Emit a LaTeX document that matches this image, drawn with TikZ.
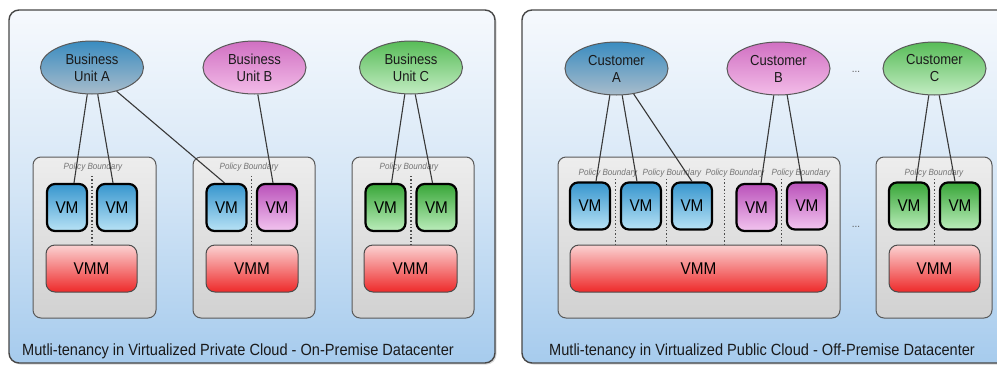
\documentclass[tikz,border=0pt]{standalone}
\usepackage{fontspec}
\setmainfont{Liberation Sans}[FakeStretch=0.9]
\usetikzlibrary{shapes.geometric,calc,shadows}

% palette
\definecolor{panelTop}{HTML}{F6F9FD}
\definecolor{panelMid}{HTML}{D5E6F6}
\definecolor{panelBot}{HTML}{A6CBED}
\definecolor{blueTop}{HTML}{3796CE}
\definecolor{blueBot}{HTML}{B8E2F5}
\definecolor{pinkTop}{HTML}{BA52BA}
\definecolor{pinkBot}{HTML}{F2C4EF}
\definecolor{greenTop}{HTML}{38A638}
\definecolor{greenBot}{HTML}{BBEDBB}
\definecolor{ellBlueTop}{HTML}{3A8CC0}
\definecolor{ellBlueBot}{HTML}{A8BCCB}
\definecolor{ellPinkTop}{HTML}{D070C2}
\definecolor{ellPinkBot}{HTML}{F3BCE8}
\definecolor{ellGreenTop}{HTML}{58BC58}
\definecolor{ellGreenBot}{HTML}{C2ECC2}
\definecolor{vmmTop}{HTML}{FBD2D2}
\definecolor{vmmBot}{HTML}{EE2A2A}
\definecolor{ink}{HTML}{1A1A1A}

\begin{document}
\begin{tikzpicture}[x=1pt,y=-1pt,
  panel/.style={draw=black!72, line width=1.4pt, rounded corners=10pt,
    top color=panelTop, bottom color=panelBot, middle color=panelMid,
    minimum height=353, inner sep=0,
    drop shadow={shadow xshift=1.5pt, shadow yshift=-1.5pt, opacity=0.25, fill=black!60}},
  host/.style={draw=black!65, line width=1pt, rounded corners=8pt,
    top color=black!7, bottom color=black!18, minimum height=161, inner sep=0},
  tenant/.style={ellipse, draw=black!65, line width=1pt, minimum width=103,
    minimum height=53, inner sep=0, align=center, text=ink,
    font=\fontsize{14.5}{17}\selectfont},
  vm/.style={draw=black, line width=2.2pt, rounded corners=8pt, minimum width=40,
    minimum height=47, inner sep=0, text=black,
    font=\fontsize{17}{20}\selectfont},
  vmblue/.style={vm, top color=blueTop, bottom color=blueBot},
  vmpink/.style={vm, top color=pinkTop, bottom color=pinkBot},
  vmgreen/.style={vm, top color=greenTop, bottom color=greenBot},
  vmm/.style={draw=black!70, line width=1pt, rounded corners=9pt, minimum height=47,
    inner sep=0, top color=vmmTop, bottom color=vmmBot, text=black,
    font=\fontsize{17}{20}\selectfont},
  policy/.style={text=black!55, inner sep=0, font=\fontsize{9}{10}\selectfont\itshape},
  caption/.style={anchor=west, inner sep=0, text=ink, font=\fontsize{16.2}{19}\selectfont},
  ellipsis/.style={text=black!65, inner sep=0, font=\fontsize{11}{12}\selectfont},
  link/.style={draw=black!78, line width=1.1pt},
  divider/.style={draw=black!70, line width=1.4pt, dotted}]

\useasboundingbox (0,0) rectangle (997,365);
\clip (0,0) rectangle (997,365);
\fill[white] (0,0) rectangle (997,365);

% ---------------- outer panels ----------------
\node[panel, minimum width=486] (pL) at (252,186.5) {};
\node[panel, minimum width=488] (pR) at (766,186.5) {};

% ---------------- private cloud ----------------
\node[host, minimum width=123] (hL1) at (94.5,237.5) {};
\node[host, minimum width=122] (hL2) at (254,237.5) {};
\node[host, minimum width=122] (hL3) at (413,237.5) {};

\node[tenant, top color=ellBlueTop, bottom color=ellBlueBot] (uA) at (92,67.5) {Business\\Unit A};
\node[tenant, top color=ellPinkTop, bottom color=ellPinkBot] (uB) at (254.5,67.5) {Business\\Unit B};
\node[tenant, top color=ellGreenTop, bottom color=ellGreenBot] (uC) at (411,67.5) {Business\\Unit C};

\node[vmblue]  (vL1) at (67,207.5)    {VM};
\node[vmblue]  (vL2) at (117,207.5)   {VM};
\node[vmblue]  (vL3) at (226.5,207.5) {VM};
\node[vmpink]  (vL4) at (277,207.5)   {VM};
\node[vmgreen] (vL5) at (385.5,207.5) {VM};
\node[vmgreen] (vL6) at (436.5,207.5) {VM};

\node[vmm, minimum width=91] (mL1) at (91.5,268.5) {VMM};
\node[vmm, minimum width=92] (mL2) at (252,268.5)  {VMM};
\node[vmm, minimum width=93] (mL3) at (410.5,268.5) {VMM};

\node[policy] at (93,167)  {Policy Boundary};
\node[policy] at (249,167) {Policy Boundary};
\node[policy] at (409,167) {Policy Boundary};

\coordinate (dL1) at ($(vL1.east)!0.5!(vL2.west)$);
\coordinate (dL2) at ($(vL3.east)!0.5!(vL4.west)$);
\coordinate (dL3) at ($(vL5.east)!0.5!(vL6.west)$);
\foreach \d/\m in {dL1/mL1, dL2/mL2, dL3/mL3}
  \draw[divider] (\d |- 0,176) -- (\d |- \m.north);

\draw[link] (uA.260) -- ($(vL1.north)+(7,0)$);
\draw[link] (uA.282) -- ($(vL2.north)+(-4,0)$);
\draw[link] (uA.316) -- ($(vL3.north)+(-2,0)$);
\draw[link] (uB.277) -- ($(vL4.north)+(-4,0)$);
\draw[link] (uC.257) -- ($(vL5.north)+(6,0)$);
\draw[link] (uC.279) -- ($(vL6.north)+(-4,0)$);

\node[caption] at (22,351) {Mutli-tenancy in Virtualized Private Cloud - On-Premise Datacenter};

% ---------------- public cloud ----------------
\node[host, minimum width=282] (hR1) at (699,237.5) {};
\node[host, minimum width=116] (hR2) at (934,237.5) {};

\node[tenant, top color=ellBlueTop, bottom color=ellBlueBot] (cA) at (616.5,68.5) {Customer\\A};
\node[tenant, top color=ellPinkTop, bottom color=ellPinkBot] (cB) at (778.5,68.5) {Customer\\B};
\node[tenant, top color=ellGreenTop, bottom color=ellGreenBot] (cC) at (934.5,68.5) {Customer\\C};
\node[ellipsis] (e1) at (856,72) {...};
\node[ellipsis] (e2) at (856,227) {...};

\node[vmblue]  (vR1) at (590,206)   {VM};
\node[vmblue]  (vR2) at (641,206)   {VM};
\node[vmblue]  (vR3) at (692,206)   {VM};
\node[vmpink]  (vR4) at (756.5,207.5) {VM};
\node[vmpink]  (vR5) at (807,206)   {VM};
\node[vmgreen] (vR6) at (909,206)   {VM};
\node[vmgreen] (vR7) at (960,206)   {VM};

\node[vmm, minimum width=257] (mR1) at (698.5,268.5) {VMM};
\node[vmm, minimum width=91]  (mR2) at (934.5,268.5) {VMM};

\node[policy] at (608,173) {Policy Boundary};
\node[policy] at (672,173) {Policy Boundary};
\node[policy] at (735,173) {Policy Boundary};
\node[policy] at (801,173) {Policy Boundary};
\node[policy] at (934,173) {Policy Boundary};

\coordinate (dR1) at ($(vR1.east)!0.5!(vR2.west)$);
\coordinate (dR2) at ($(vR2.east)!0.5!(vR3.west)$);
\coordinate (dR3) at ($(vR3.east)!0.5!(vR4.west)$);
\coordinate (dR4) at ($(vR4.east)!0.5!(vR5.west)$);
\coordinate (dR5) at ($(vR6.east)!0.5!(vR7.west)$);
\foreach \d/\m in {dR1/mR1, dR2/mR1, dR3/mR1, dR4/mR1, dR5/mR2}
  \draw[divider] (\d |- 0,179) -- (\d |- \m.north);

\draw[link] (cA.256) -- ($(vR1.north)+(6,0)$);
\draw[link] (cA.282) -- ($(vR2.north)+(-4,0)$);
\draw[link] (cA.304) -- ($(vR3.north)+(0,0)$);
\draw[link] (cB.260) -- ($(vR4.north)+(4.5,0)$);
\draw[link] (cB.288) -- ($(vR5.north)+(-5,0)$);
\draw[link] (cC.258) -- ($(vR6.north)+(7,0)$);
\draw[link] (cC.280) -- ($(vR7.north)+(-5,0)$);

\node[caption] at (549,351) {Mutli-tenancy in Virtualized Public Cloud - Off-Premise Datacenter};
\end{tikzpicture}
\end{document}
